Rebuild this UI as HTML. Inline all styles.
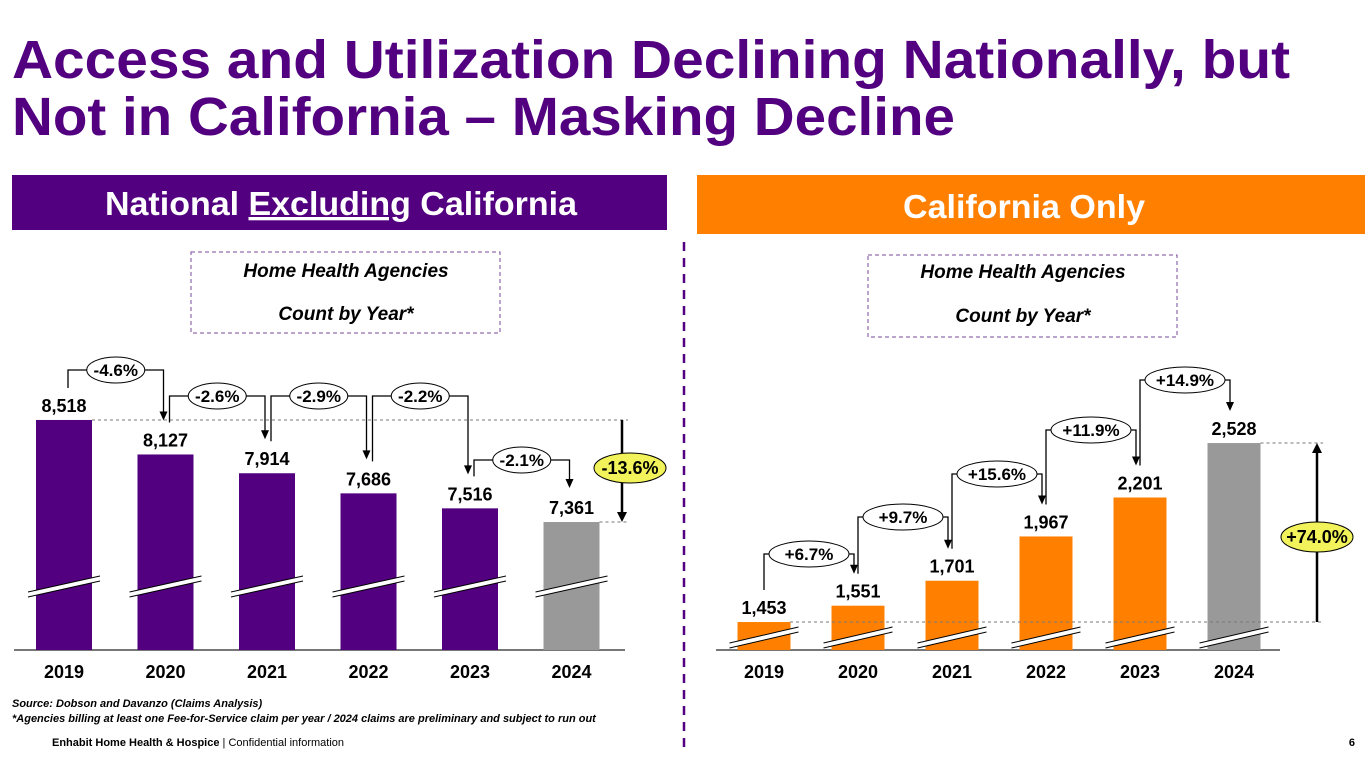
<!DOCTYPE html>
<html><head><meta charset="utf-8"><style>
html,body{margin:0;padding:0;background:#fff;}
svg{display:block;font-family:"Liberation Sans",Arial,sans-serif;}
</style></head><body>
<svg id="s" width="1365" height="768" viewBox="0 0 1365 768">
<g fill="#520080" font-weight="bold" font-size="54">
<text x="12" y="78" textLength="1278" lengthAdjust="spacingAndGlyphs">Access and Utilization Declining Nationally, but</text>
<text x="12" y="135" textLength="943" lengthAdjust="spacingAndGlyphs">Not in California – Masking Decline</text>
</g>
<rect x="12" y="175" width="655" height="55" fill="#520080"/>
<text x="341" y="215" fill="#fff" font-size="33" font-weight="bold" text-anchor="middle" textLength="472" lengthAdjust="spacingAndGlyphs">National <tspan text-decoration="underline">Excluding</tspan> California</text>
<rect x="697" y="175" width="668" height="59" fill="#FF8000"/>
<text x="1024" y="218" fill="#fff" font-size="33" font-weight="bold" text-anchor="middle" textLength="242" lengthAdjust="spacingAndGlyphs">California Only</text>
<line x1="684" y1="242" x2="684" y2="752" stroke="#520080" stroke-width="2.5" stroke-dasharray="9,7"/>
<g>
<rect x="191" y="252" width="309" height="81" fill="none" stroke="#7a4a9a" stroke-dasharray="4,3"/>
<text x="346" y="277" font-size="19" font-style="italic" font-weight="bold" text-anchor="middle">Home Health Agencies</text>
<text x="346" y="320" font-size="19" font-style="italic" font-weight="bold" text-anchor="middle">Count by Year*</text>
</g>
<g>
<rect x="868" y="255" width="309" height="82" fill="none" stroke="#7a4a9a" stroke-dasharray="4,3"/>
<text x="1023" y="278" font-size="19" font-style="italic" font-weight="bold" text-anchor="middle">Home Health Agencies</text>
<text x="1023" y="322" font-size="19" font-style="italic" font-weight="bold" text-anchor="middle">Count by Year*</text>
</g>
<g id="left"></g>
<g id="right"></g>
<g font-size="11" font-style="italic" font-weight="bold">
<text x="12" y="707">Source: Dobson and Davanzo (Claims Analysis)</text>
<text x="12" y="722">*Agencies billing at least one Fee-for-Service claim per year / 2024 claims are preliminary and subject to run out</text>
</g>
<text x="52" y="746" font-size="11"><tspan font-weight="bold">Enhabit Home Health &amp; Hospice</tspan>  |  Confidential information</text>
<text x="1355" y="746" font-size="11" font-weight="bold" text-anchor="end">6</text>
</svg>
<script>
const years = ["2019","2020","2021","2022","2023","2024"];
const nationalValues = [8518,8127,7914,7686,7516,7361];
const nationalChanges = ["-4.6%","-2.6%","-2.9%","-2.2%","-2.1%"];
const nationalTotal = "-13.6%";
const caValues = [1453,1551,1701,1967,2201,2528];
const caChanges = ["+6.7%","+9.7%","+15.6%","+11.9%","+14.9%"];
const caTotal = "+74.0%";

const NS="http://www.w3.org/2000/svg";
function mk(p,t,a){const e=document.createElementNS(NS,t);for(const k in a)e.setAttribute(k,a[k]);p.appendChild(e);return e;}

function chart(g,vals,chg,total,cfg){
  const y=v=>cfg.base-(v-cfg.v0)*cfg.k;
  const x=i=>cfg.x0+i*cfg.step;
  const ax=mk(g,'line',{x1:cfg.ax1,y1:cfg.base,x2:cfg.ax2,y2:cfg.base,stroke:'#777','stroke-width':2});
  
  
  vals.forEach((v,i)=>{
    const cx=x(i),top=y(v);
    const r=mk(g,'rect',{x:cx-cfg.bw/2,y:top,width:cfg.bw,height:cfg.base-top,fill:i==vals.length-1?'#999999':cfg.color});
    
    
    const by=cfg.brk;
    mk(g,'polygon',{points:`${cx-cfg.bw/2-8},${by+7} ${cx+cfg.bw/2+8},${by-9} ${cx+cfg.bw/2+8},${by-4} ${cx-cfg.bw/2-8},${by+12}`,fill:'#fff'});
    mk(g,'line',{x1:cx-cfg.bw/2-8,y1:by+7,x2:cx+cfg.bw/2+8,y2:by-9,stroke:'#000','stroke-width':1});
    mk(g,'line',{x1:cx-cfg.bw/2-8,y1:by+12,x2:cx+cfg.bw/2+8,y2:by-4,stroke:'#000','stroke-width':1});
    const t=mk(g,'text',{x:cx,y:top-8,'font-size':18,'font-weight':'bold','text-anchor':'middle'});
    t.textContent=v.toLocaleString('en-US');
    
    
    const yl=mk(g,'text',{x:cx,y:cfg.base+28,'font-size':18,'font-weight':'bold','text-anchor':'middle'});
    yl.textContent=years[i];
    
    
  });
  chg.forEach((c,i)=>{
    const a=x(i),b=x(i+1);
    const t1=y(vals[i]),t2=y(vals[i+1]);
    const by=cfg.bubY[i];
    const lx=a+cfg.offL, rx=b+cfg.offR;
    const startY=t1-cfg.gapS;
    const endY=t2-cfg.gapE;
    const cx=(lx+rx)/2;
    mk(g,'polyline',{points:`${lx},${startY} ${lx},${by} ${rx},${by} ${rx},${endY-8}`,fill:'none',stroke:'#000','stroke-width':1.3});
    mk(g,'polygon',{points:`${rx-4},${endY-9} ${rx+4},${endY-9} ${rx},${endY}`,fill:'#000'});
    const e=mk(g,'ellipse',{cx:cx,cy:by,rx:cfg.brx,ry:13,fill:'#fff',stroke:'#000','stroke-width':1});
    
    
    const t=mk(g,'text',{x:cx,y:by+6,'font-size':17,'font-weight':'bold','text-anchor':'middle'});
    t.textContent=c;
  });
  const yf=y(vals[0]),yl=y(vals[vals.length-1]);
  const last=x(vals.length-1)+cfg.bw/2;
  mk(g,'line',{x1:cfg.firstDashX,y1:yf,x2:cfg.tx+6,y2:yf,stroke:'#777','stroke-dasharray':'3,3'});
  mk(g,'line',{x1:last,y1:yl,x2:cfg.tx+6,y2:yl,stroke:'#777','stroke-dasharray':'3,3'});
  const up=yl<yf;
  mk(g,'line',{x1:cfg.tx,y1:yf,x2:cfg.tx,y2:up?yl+8:yl-8,stroke:'#000','stroke-width':2.5});
  mk(g,'polygon',{points:up?`${cfg.tx-5},${yl+10} ${cfg.tx+5},${yl+10} ${cfg.tx},${yl}`:`${cfg.tx-5},${yl-10} ${cfg.tx+5},${yl-10} ${cfg.tx},${yl}`,fill:'#000'});
  const te=mk(g,'ellipse',{cx:cfg.tx+cfg.tdx,cy:cfg.totY,rx:36,ry:15,fill:'#F2F25A',stroke:'#000','stroke-width':1});
  
  
  const tt=mk(g,'text',{x:cfg.tx+cfg.tdx,y:cfg.totY+6,'font-size':18,'font-weight':'bold','text-anchor':'middle'});
  tt.textContent=total;
}
chart(document.getElementById('left'),nationalValues,nationalChanges,nationalTotal,{
  base:650,v0:5910,k:0.0882,x0:64,step:101.5,bw:56,color:'#520080',brk:585,ax1:14,ax2:625,
  offL:4,offR:-2,gapS:32,gapE:34,brx:29,
  bubY:[370,396,396,396,460],
  tx:622,tdx:8,totY:468,firstDashX:92
});
chart(document.getElementById('right'),caValues,caChanges,caTotal,{
  base:650,v0:1285,k:0.1665,x0:764,step:94,bw:53,color:'#FF8000',brk:636,ax1:716,ax2:1280,
  offL:0,offR:-4,gapS:32,gapE:32,brx:40,
  bubY:[554,517,474,430,380],
  tx:1317,tdx:0,totY:537,firstDashX:790
});
</script>
</body></html>
